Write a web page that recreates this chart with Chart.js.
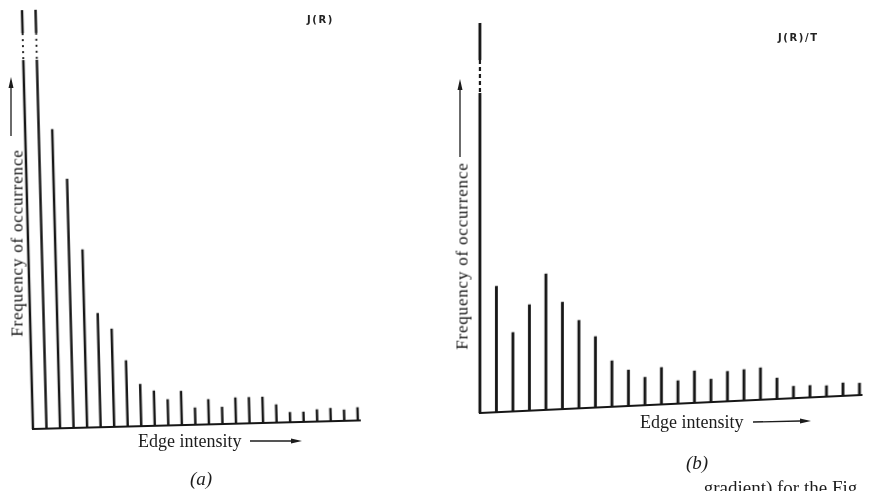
<!DOCTYPE html>
<html>
<head>
<meta charset="utf-8">
<script src="https://cdn.jsdelivr.net/npm/chart.js@4.4.0/dist/chart.umd.min.js"></script>
<style>
html, body { margin: 0; padding: 0; background: #fff; overflow: hidden; }
body { width: 872px; height: 491px; position: relative; font-family: "Liberation Serif", "DejaVu Serif", serif; color: #1c1c1c; }
canvas { position: absolute; top: 0; }
/* the scan is slightly rotated / sheared */
#chartA { left: 20px; transform: rotate(-1.5deg); transform-origin: 13px 429px; }
#chartB { left: 440px; transform: skewY(-2.7deg); transform-origin: 40px 413px; }
.t { position: absolute; white-space: nowrap; line-height: 1; }
.ytitle { font-size: 17px; letter-spacing: 0.8px; color: #111; transform: translate(-50%, -50%) rotate(-90deg); }
.xtitle { font-size: 18px; }
.panel { font-size: 19px; font-style: italic; transform: translate(-50%, -50%); }
.key { font-family: "DejaVu Sans", sans-serif; font-size: 10px; font-weight: bold; letter-spacing: 1.6px; color: #222; }
svg { position: absolute; left: 0; top: 0; pointer-events: none; }
</style>
</head>
<body>
<canvas id="chartA" width="350" height="440"></canvas>
<canvas id="chartB" width="432" height="440"></canvas>

<div class="t key" style="left:307px; top:15px;">J(R)</div>
<div class="t key" style="left:778px; top:33px;">J(R)/T</div>

<div class="t ytitle" style="left:17px; top:243px;">Frequency of occurrence</div>
<div class="t ytitle" style="left:462px; top:256px;">Frequency of occurrence</div>

<div class="t xtitle" style="left:138px; top:432px;">Edge intensity</div>
<div class="t xtitle" style="left:640px; top:413px;">Edge intensity</div>

<div class="t panel" style="left:201px; top:478px;">(a)</div>
<div class="t panel" style="left:697px; top:462px;">(b)</div>

<div class="t" style="right:10px; top:478px; font-size:19px;">gradient) for the Fig.</div>

<svg width="872" height="491">
  <g stroke="#1c1c1c" stroke-width="1.3" fill="#1c1c1c">
    <line x1="11" y1="136" x2="11" y2="86"/>
    <polygon points="11,77 8.5,88 13.5,88" stroke="none"/>
    <line x1="460" y1="157" x2="460" y2="88"/>
    <polygon points="460,79 457.5,90 462.5,90" stroke="none"/>
    <line x1="250" y1="441" x2="292" y2="441"/>
    <polygon points="302,441 291,438.5 291,443.5" stroke="none"/>
    <line x1="753" y1="422" x2="800" y2="421"/>
    <polygon points="811,421 800,418.5 800,423.5" stroke="none"/>
  </g>
</svg>

<script>
// (a) J(R) histogram, (b) J(R)/T histogram
var binsA = ['0','1','2','3','4','5','6','7','8','9','10','11','12','13','14','15','16','17','18','19','20','21','22','23','24'];
var countsA = [419, 419, 299, 249, 178, 114, 98, 66, 42, 35, 26, 34, 17, 25, 17, 26, 26, 26, 18, 10, 10, 12, 13, 11, 13];
var maxA = 419;
var breakA = [369, 396];   // dotted break in the off-scale bars
var brokenA = [0, 1];

var binsB = ['0','1','2','3','4','5','6','7','8','9','10','11','12','13','14','15','16','17','18','19','20','21','22','23'];
var countsB = [390, 126, 79, 106, 136, 107, 88, 71, 46, 36, 28, 37, 23, 32, 23, 30, 31, 32, 21, 12, 12, 11, 13, 12];
var maxB = 390;
var breakB = [320, 353];   // dashed break in the first bar
var brokenB = [0];

var INK = '#161616';

// baseline under the spikes + the break marks on off-scale bars
var figPlugin = {
  id: 'fig',
  afterDatasetsDraw: function(chart, args, opts) {
    var ctx = chart.ctx;
    var bars = chart.getDatasetMeta(0).data;
    var y = chart.scales.y;
    var base = y.getPixelForValue(0);
    ctx.save();
    ctx.strokeStyle = INK;
    ctx.lineWidth = opts.baseWidth;
    ctx.beginPath();
    ctx.moveTo(bars[0].x - 1, base);
    ctx.lineTo(bars[bars.length - 1].x + 3, base);
    ctx.stroke();

    var top = y.getPixelForValue(opts.range[1]);
    var bot = y.getPixelForValue(opts.range[0]);
    opts.bars.forEach(function(i) {
      var b = bars[i];
      ctx.fillStyle = '#fff';
      ctx.fillRect(b.x - 3, top, 6, bot - top);
      ctx.fillStyle = INK;
      for (var yy = top; yy < bot; yy += opts.dash + opts.gap) {
        ctx.fillRect(b.x - b.width / 2, yy, b.width, Math.min(opts.dash, bot - yy));
      }
    });
    ctx.restore();
  }
};

function makeChart(id, labels, values, yMax, pad, thick, brk) {
  return new Chart(document.getElementById(id), {
    type: 'bar',
    data: {
      labels: labels,
      datasets: [{ data: values, backgroundColor: INK, borderWidth: 0, barThickness: thick }]
    },
    options: {
      responsive: false,
      animation: false,
      layout: { padding: pad },
      plugins: { legend: { display: false }, tooltip: { enabled: false }, fig: brk },
      scales: {
        x: { display: false, offset: true },
        y: { display: false, min: 0, max: yMax }
      }
    },
    plugins: [figPlugin]
  });
}

makeChart('chartA', binsA, countsA, maxA,
  { left: 6.2, right: 5.3, top: 10, bottom: 11 }, 1.8,
  { range: breakA, bars: brokenA, dash: 2, gap: 4, baseWidth: 2 });

makeChart('chartB', binsB, countsB, maxB,
  { left: 31.7, right: 3.8, top: 23, bottom: 27 }, 2.2,
  { range: breakB, bars: brokenB, dash: 4, gap: 3, baseWidth: 2 });
</script>
</body>
</html>
